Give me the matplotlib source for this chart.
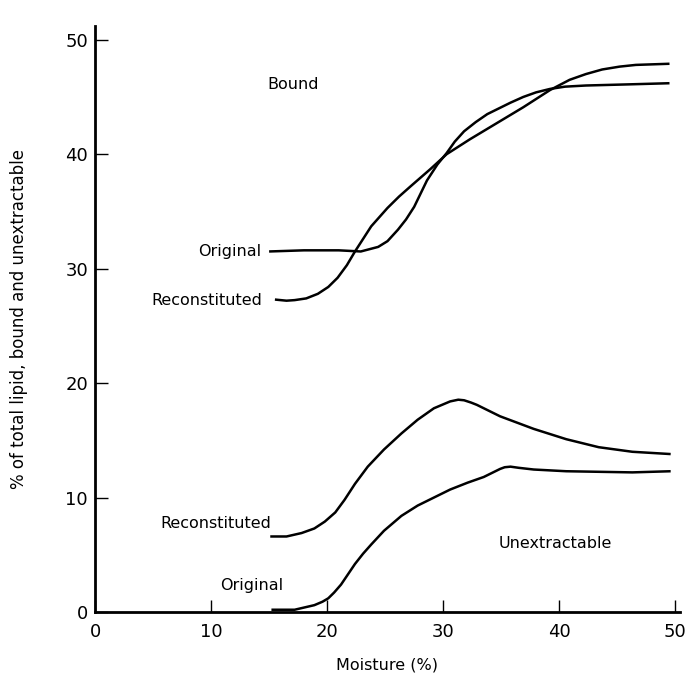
import matplotlib
matplotlib.use("Agg")
import matplotlib.pyplot as plt

# values (moisture %, % of total lipid)
bound_orig_x = [15.0, 18.0, 21.0, 22.9, 24.4, 25.2, 26.1, 26.8, 27.5, 28.6, 29.5, 30.3, 31.0, 31.8,
                32.8, 33.8, 34.8, 35.8, 36.9, 38.0, 39.2, 40.5, 42.3, 46.0, 49.5]
bound_orig_y = [31.5, 31.6, 31.6, 31.5, 31.9, 32.4, 33.4, 34.3, 35.4, 37.7, 39.1, 40.1, 41.1, 42.0,
                42.8, 43.5, 44.0, 44.5, 45.0, 45.4, 45.7, 45.9, 46.0, 46.1, 46.2]

bound_rec_x = [15.5, 16.5, 17.2, 18.2, 19.2, 20.1, 20.9, 21.7, 22.4, 23.8, 25.2, 26.2, 27.2, 28.9,
               30.3, 32.3, 34.6, 36.9, 39.2, 40.9, 42.3, 43.7, 45.2, 46.6, 49.5]
bound_rec_y = [27.3, 27.2, 27.25, 27.4, 27.8, 28.4, 29.2, 30.3, 31.5, 33.7, 35.3, 36.3, 37.2, 38.7,
               40.0, 41.3, 42.7, 44.1, 45.6, 46.5, 47.0, 47.4, 47.65, 47.8, 47.9]

unex_rec_x = [15.1, 16.5, 17.8, 18.9, 19.8, 20.7, 21.5, 22.4, 23.5, 24.9, 26.4, 27.8, 29.2, 30.6,
              31.3, 31.8, 32.4, 32.9, 34.9, 37.8, 40.6, 43.4, 46.3, 49.6]
unex_rec_y = [6.6, 6.6, 6.9, 7.3, 7.9, 8.7, 9.8, 11.2, 12.7, 14.2, 15.6, 16.8, 17.8, 18.4,
              18.55, 18.5, 18.3, 18.1, 17.1, 16.0, 15.1, 14.4, 14.0, 13.8]

unex_orig_x = [15.2, 17.2, 18.9, 19.6, 20.1, 20.6, 21.2, 21.8, 22.4, 23.1, 23.8, 24.9, 26.4, 27.8,
               29.2, 30.6, 32.1, 33.5, 34.9, 35.3, 35.8, 36.5, 37.8, 40.6, 46.3, 49.6]
unex_orig_y = [0.2, 0.2, 0.6, 0.9, 1.2, 1.7, 2.4, 3.3, 4.2, 5.1, 5.9, 7.1, 8.4, 9.3,
               10.0, 10.7, 11.3, 11.8, 12.5, 12.65, 12.7, 12.6, 12.45, 12.3, 12.2, 12.3]

ticks = [0, 10, 20, 30, 40, 50]

plt.rcParams['font.family'] = ['DejaVu Sans']

fig = plt.figure(figsize=(6.91, 6.75), dpi=100)
ax = fig.add_axes([0.1375, 0.0933, 0.8465, 0.8682])

lw = 1.8
for xs, ys in [(bound_orig_x, bound_orig_y), (bound_rec_x, bound_rec_y),
               (unex_rec_x, unex_rec_y), (unex_orig_x, unex_orig_y)]:
    ax.plot(xs, ys, color='black', lw=lw, solid_joinstyle='round', solid_capstyle='butt')

# curve labels
fs = 11.5
ax.text(17.1, 46.1, "Bound", fontsize=fs, ha='center', va='center')
ax.text(14.3, 31.5, "Original", fontsize=fs, ha='right', va='center')
ax.text(14.4, 27.2, "Reconstituted", fontsize=fs, ha='right', va='center')
ax.text(15.2, 7.7, "Reconstituted", fontsize=fs, ha='right', va='center')
ax.text(13.5, 2.3, "Original", fontsize=fs, ha='center', va='center')
ax.text(39.7, 6.0, "Unextractable", fontsize=fs, ha='center', va='center')

ax.set_xlim(0, 50.4)
ax.set_ylim(0, 51.2)
ax.set_xticks(ticks)
ax.set_yticks(ticks)
ax.tick_params(direction='in', length=9, width=1, labelsize=13)
ax.tick_params(axis='y', pad=5)
ax.tick_params(axis='x', pad=8)

ax.spines['top'].set_visible(False)
ax.spines['right'].set_visible(False)
ax.spines['left'].set_linewidth(2)
ax.spines['bottom'].set_linewidth(2)

ax.set_xlabel("Moisture (%)", fontsize=11.5, labelpad=12)
ax.set_ylabel("% of total lipid, bound and unextractable", fontsize=12, labelpad=27)

fig.savefig("out.png", dpi=100)
